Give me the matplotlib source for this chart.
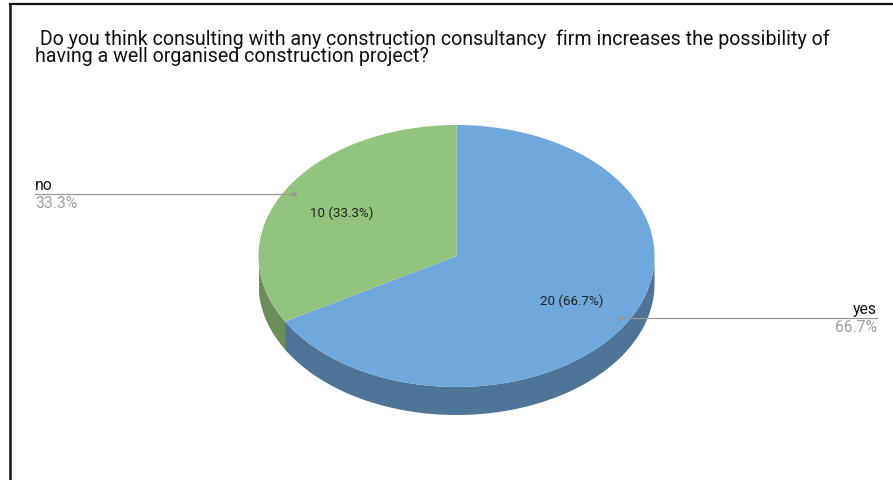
import numpy as np
import matplotlib
matplotlib.use("Agg")
import matplotlib.pyplot as plt
from matplotlib.lines import Line2D

plt.rcParams['font.family'] = ['Roboto', 'DejaVu Sans']

TITLE = (" Do you think consulting with any construction consultancy  firm increases the possibility of\n"
         "having a well organised construction project?")
categories = ["yes", "no"]
values = [20, 10]
colors = ["#6fa8dc", "#93c47d"]
side_colors = ["#4e7498", "#6a8d59"]

W, H = 893, 481
fig = plt.figure(figsize=(W / 100, H / 100), dpi=100)

# frame lines (top and left)
fig.add_artist(Line2D([10 / W, 1], [1 - 5 / H, 1 - 5 / H], color="#111111", lw=1.6, transform=fig.transFigure))
fig.add_artist(Line2D([10 / W, 10 / W], [0, 1 - 5 / H], color="#111111", lw=1.8, transform=fig.transFigure))

fig.text(35 / W, 1 - 29 / H, TITLE, ha="left", va="top", fontsize=14.1,
         color="#111111", linespacing=0.88)

# pie axes: ellipse box 396 x 262 px, depth 28 px
cx, cy, a, b, depth = 456.5, 257, 198, 131, 28
d = depth / b
ax = fig.add_axes([(cx - a) / W, 1 - (cy + b + depth) / H, 2 * a / W, (2 * b + depth) / H])
total = sum(values)
wedges, _, autotexts = ax.pie(
    values, colors=colors, startangle=90, counterclock=False, radius=1,
    autopct=lambda p: f"{round(p * total / 100):.0f} ({p:.1f}%)",
    pctdistance=0.67, textprops=dict(fontsize=9.6, color="#222222"),
    wedgeprops=dict(linewidth=0))
ax.set_aspect("auto")
ax.set_xlim(-1, 1)
ax.set_ylim(-1 - d, 1)
for w in wedges:
    w.set_zorder(3)
for t in autotexts:
    t.set_zorder(5)

# side walls of the front half
for w, sc in zip(wedges, side_colors):
    t1, t2 = w.theta1, w.theta2
    for k in (-720, -360, 0, 360, 720):
        s, e = max(t1 + k, 180), min(t2 + k, 360)
        if e <= s:
            continue
        th = np.radians(np.linspace(s, e, 120))
        xs = np.concatenate([np.cos(th), np.cos(th[::-1])])
        ys = np.concatenate([np.sin(th), np.sin(th[::-1]) - d])
        ax.fill(xs, ys, color=sc, lw=0, zorder=2)

# outside labels with leader lines
for w, cat, v in zip(wedges, categories, values):
    mid = np.radians((w.theta1 + w.theta2) / 2)
    px, py = ax.transData.transform((0.945 * np.cos(mid), 0.945 * np.sin(mid)))
    fx, fy = px / W, py / H
    right = np.cos(mid) > 0
    ex = 877 / W if right else 35 / W
    fig.add_artist(Line2D([fx, ex], [fy, fy], color="#999999", lw=0.9, transform=fig.transFigure, zorder=6))
    fig.add_artist(Line2D([fx], [fy], color="#999999", marker="o", ms=2.5, lw=0, transform=fig.transFigure, zorder=6))
    ha = "right" if right else "left"
    fig.text(ex, fy + 2 / H, cat, ha=ha, va="bottom", fontsize=11.3, color="#111111")
    fig.text(ex, fy - 1 / H, f"{100 * v / total:.1f}%", ha=ha, va="top", fontsize=11.3, color="#a0a0a0")

fig.savefig("out.png", dpi=100, facecolor="white")
